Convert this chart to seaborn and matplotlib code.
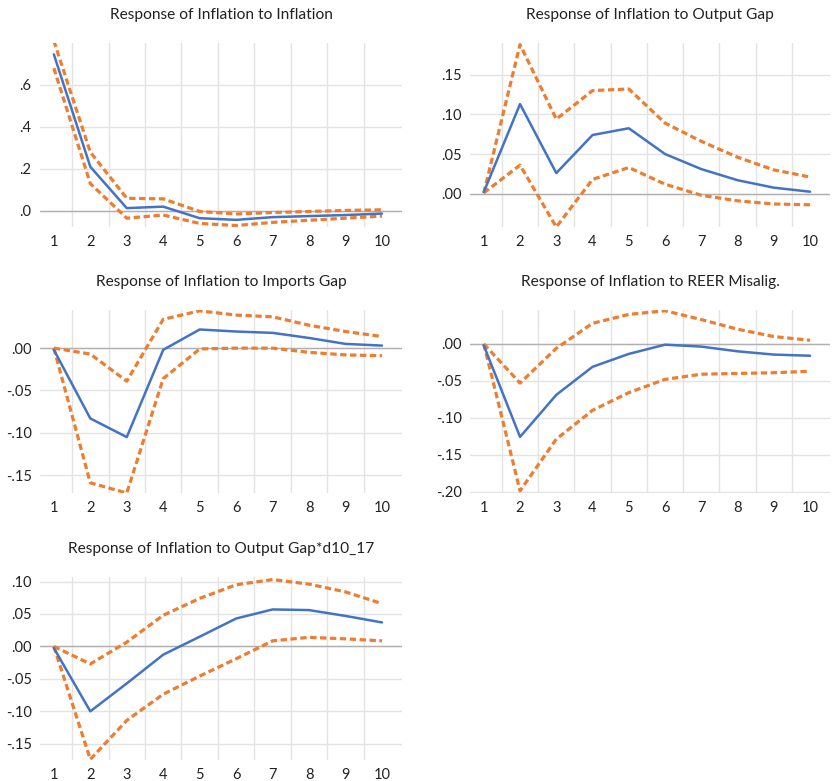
import numpy as np
import pandas as pd
import matplotlib
matplotlib.use("Agg")
import matplotlib.pyplot as plt
import seaborn as sns
from matplotlib.ticker import FuncFormatter, FixedLocator

sns.set_theme(style="white")
plt.rcParams['font.family'] = ['Lato', 'DejaVu Sans']

periods = list(range(1, 11))

titles = [
    "Response of Inflation to Inflation",
    "Response of Inflation to Output Gap",
    "Response of Inflation to Imports Gap",
    "Response of Inflation to REER Misalig.",
    "Response of Inflation to Output Gap*d10_17",
]

# panel 1: Inflation -> Inflation
p1_resp = [0.746, 0.21, 0.013, 0.02, -0.035, -0.043, -0.03, -0.025, -0.02, -0.013]
p1_up = [0.81, 0.28, 0.06, 0.057, -0.003, -0.015, -0.008, -0.003, 0.002, 0.005]
p1_lo = [0.68, 0.13, -0.035, -0.02, -0.06, -0.07, -0.055, -0.045, -0.035, -0.025]

# panel 2: Output Gap
p2_resp = [0.002, 0.113, 0.026, 0.074, 0.0825, 0.050, 0.031, 0.017, 0.0076, 0.0025]
p2_up = [0.001, 0.188, 0.094, 0.13, 0.132, 0.089, 0.066, 0.046, 0.030, 0.021]
p2_lo = [0.001, 0.036, -0.042, 0.018, 0.033, 0.012, -0.002, -0.009, -0.013, -0.014]

# panel 3: Imports Gap
p3_resp = [-0.002, -0.083, -0.105, -0.002, 0.022, 0.0196, 0.018, 0.012, 0.005, 0.003]
p3_up = [0.0, -0.007, -0.039, 0.034, 0.044, 0.039, 0.037, 0.027, 0.0196, 0.0137]
p3_lo = [0.0, -0.159, -0.171, -0.036, -0.001, 0.0, 0.0, -0.005, -0.008, -0.009]

# panel 4: REER Misalignment
p4_resp = [-0.002, -0.126, -0.069, -0.031, -0.0135, -0.001, -0.0036, -0.010, -0.0144, -0.016]
p4_up = [0.0, -0.053, -0.006, 0.028, 0.040, 0.045, 0.033, 0.020, 0.010, 0.005]
p4_lo = [0.0, -0.199, -0.129, -0.09, -0.066, -0.048, -0.041, -0.040, -0.039, -0.037]

# panel 5: Output Gap*d10_17
p5_resp = [-0.0025, -0.100, -0.057, -0.0127, 0.015, 0.043, 0.057, 0.056, 0.047, 0.037]
p5_up = [0.0, -0.027, 0.0066, 0.048, 0.074, 0.095, 0.103, 0.096, 0.084, 0.066]
p5_lo = [0.0, -0.174, -0.114, -0.0736, -0.0457, -0.019, 0.0086, 0.014, 0.0117, 0.0086]

panels = [
    (p1_resp, p1_up, p1_lo, (-0.077, 0.80), [0.0, 0.2, 0.4, 0.6], 1),
    (p2_resp, p2_up, p2_lo, (-0.042, 0.19), [0.0, 0.05, 0.10, 0.15], 2),
    (p3_resp, p3_up, p3_lo, (-0.171, 0.045), [-0.15, -0.10, -0.05, 0.0], 2),
    (p4_resp, p4_up, p4_lo, (-0.202, 0.046), [-0.20, -0.15, -0.10, -0.05, 0.0], 2),
    (p5_resp, p5_up, p5_lo, (-0.175, 0.107), [-0.15, -0.10, -0.05, 0.0, 0.05, 0.10], 2),
]

W, H = 833, 781
# pixel boxes: left, right, top, bottom
boxes = [
    (40, 402, 43, 227),
    (470, 830, 43, 227),
    (40, 402, 310, 493),
    (470, 830, 310, 493),
    (40, 402, 577, 760),
]

BLUE = "#4472C4"
ORANGE = "#ED7D31"

fig = plt.figure(figsize=(W / 100, H / 100), dpi=100)


def fmt(decimals):
    def f(v, pos):
        s = f"{v:.{decimals}f}"
        if abs(v) < 1e-12:
            s = f"{0:.{decimals}f}"
        s = s.replace("0.", ".", 1)
        return s
    return f


for (resp, up, lo, ylim, yt, dec), (l, r, t, b), title in zip(panels, boxes, titles):
    ax = fig.add_axes([l / W, 1 - b / H, (r - l) / W, (b - t) / H])
    df = pd.DataFrame({"period": periods, "resp": resp, "up": up, "lo": lo})
    ax.set_xlim(0.62, 10.55)
    ax.set_ylim(*ylim)
    ax.xaxis.set_major_locator(FixedLocator(periods))
    ax.xaxis.set_minor_locator(FixedLocator([p + 0.5 for p in periods[:-1]]))
    ax.yaxis.set_major_locator(FixedLocator(yt))
    ax.yaxis.set_major_formatter(FuncFormatter(fmt(dec)))
    ax.grid(False)
    ax.grid(True, which="minor", axis="x", color="#E3E3E3", linewidth=1.0)
    ax.grid(True, which="major", axis="y", color="#E3E3E3", linewidth=1.0)
    ax.axhline(0, color="#B0B0B0", linewidth=1.0, zorder=1.5)
    ax.set_axisbelow(True)
    for s in ax.spines.values():
        s.set_visible(False)
    ax.tick_params(axis="both", which="both", length=0, labelsize=10.5, colors="#222222")
    ax.tick_params(axis="y", pad=6)
    ax.tick_params(axis="x", pad=6)

    sns.lineplot(data=df, x="period", y="up", ax=ax, color=ORANGE, linewidth=2.3,
                 linestyle=(0, (2.0, 1.1)), zorder=3)
    sns.lineplot(data=df, x="period", y="lo", ax=ax, color=ORANGE, linewidth=2.3,
                 linestyle=(0, (2.0, 1.1)), zorder=3)
    sns.lineplot(data=df, x="period", y="resp", ax=ax, color=BLUE, linewidth=1.8, zorder=4)
    ax.set_xlabel("")
    ax.set_ylabel("")
    ax.set_xlim(0.62, 10.55)
    ax.set_ylim(*ylim)
    ax.set_title(title, fontsize=11.2, color="#222222", pad=17.5)

fig.savefig("out.png", dpi=100)
